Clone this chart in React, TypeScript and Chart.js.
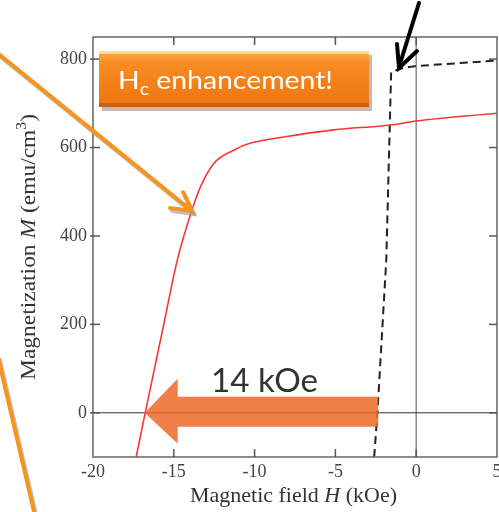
import React, { useEffect, useRef } from "react";
import { Chart, registerables } from "chart.js";

Chart.register(...registerables);

// Field (kOe) and magnetization (emu/cm^3)
const redH = [-17.33, -16.77, -15.62, -14.78, -13.87, -13.35, -12.5, -11.3, -10.25, -8.2, -5.1, -1.55, 0, 5.1];
const redM = [-100, 0, 200, 346, 459, 511, 565, 594, 610, 624, 640, 651, 660, 678];
const blackH = [-2.6, -2.4, -1.85, -1.55, -0.8, -0.1, 5.1];
const blackM = [-100, 0, 346, 771, 780, 784, 797];
const xTicks = [-20, -15, -10, -5, 0, 5];
const yTicks = [0, 200, 400, 600, 800];
const xRange = [-20, 5];
const yRange = [-100, 850];
const arrowLabel = "14 kOe";
const arrowFrom = -2.35; // H where the big arrow starts
const arrowTo = -16.8;   // H where the big arrow points
const boxMain = "H";
const boxSub = "c";
const boxRest = " enhancement!";

const serif = "'Liberation Serif', 'DejaVu Serif', serif";
const sans = "Lato, 'Open Sans', sans-serif";

type Seg = { t: string; f: string; dy?: number };

// draws text segments starting at x (or centred on cx), horizontally fitted to width w
function drawFit(ctx: CanvasRenderingContext2D, segs: Seg[], x: number, y: number, w: number, center: boolean) {
  let total = 0;
  for (const s of segs) { ctx.font = s.f; total += ctx.measureText(s.t).width; }
  const k = w / total;
  ctx.save();
  ctx.translate(center ? x - w / 2 : x, y);
  ctx.scale(k, 1);
  ctx.textAlign = "left";
  let px = 0;
  for (const s of segs) {
    ctx.font = s.f;
    ctx.fillText(s.t, px, s.dy || 0);
    px += ctx.measureText(s.t).width;
  }
  ctx.restore();
}

const decor = {
  id: "decor",
  beforeDatasetsDraw(chart: any) {
    const { ctx, chartArea: a, scales } = chart;
    const x0 = scales.x.getPixelForValue(0);
    const y0 = scales.y.getPixelForValue(0);
    ctx.save();
    ctx.strokeStyle = "#8a8a8a";
    ctx.lineWidth = 1.5;
    ctx.beginPath(); ctx.moveTo(x0, a.top); ctx.lineTo(x0, a.bottom); ctx.stroke();
    ctx.strokeStyle = "#333";
    ctx.lineWidth = 1;
    ctx.beginPath(); ctx.moveTo(a.left, y0); ctx.lineTo(a.right, y0); ctx.stroke();
    ctx.restore();
  },
  afterDatasetsDraw(chart: any) {
    const { ctx, chartArea: a, scales } = chart;
    const sx = scales.x, sy = scales.y;
    ctx.save();
    // frame
    ctx.strokeStyle = "#666";
    ctx.lineWidth = 1.5;
    ctx.strokeRect(a.left, a.top, a.right - a.left, a.bottom - a.top);
    // ticks
    ctx.strokeStyle = "#555";
    ctx.lineWidth = 1.5;
    for (const v of xTicks) {
      const px = sx.getPixelForValue(v);
      if (v === xRange[0] || v === xRange[1]) continue;
      ctx.beginPath(); ctx.moveTo(px, a.bottom); ctx.lineTo(px, a.bottom - 8); ctx.stroke();
      ctx.beginPath(); ctx.moveTo(px, a.top); ctx.lineTo(px, a.top + 8); ctx.stroke();
    }
    for (const v of yTicks) {
      const py = sy.getPixelForValue(v);
      ctx.beginPath(); ctx.moveTo(a.left - 3, py); ctx.lineTo(a.left + 7, py); ctx.stroke();
      ctx.beginPath(); ctx.moveTo(a.right, py); ctx.lineTo(a.right - 8, py); ctx.stroke();
    }
    // tick labels
    ctx.fillStyle = "#444";
    ctx.font = `18px ${serif}`;
    ctx.textBaseline = "middle";
    ctx.textAlign = "center";
    for (const v of xTicks) ctx.fillText(String(v), sx.getPixelForValue(v), a.bottom + 15);
    ctx.textAlign = "right";
    for (const v of yTicks) ctx.fillText(String(v), a.left - 6, sy.getPixelForValue(v));
    // axis titles
    ctx.fillStyle = "#333";
    ctx.textBaseline = "alphabetic";
    drawFit(ctx, [
      { t: "Magnetic field ", f: `21px ${serif}` },
      { t: "H", f: `italic 21px ${serif}` },
      { t: " (kOe)", f: `21px ${serif}` },
    ], 293.5, a.bottom + 45, 207, true);
    ctx.save();
    ctx.translate(35, 0);
    ctx.rotate(-Math.PI / 2);
    drawFit(ctx, [
      { t: "Magnetization ", f: `21px ${serif}` },
      { t: "M", f: `italic 21px ${serif}` },
      { t: " (emu/cm", f: `21px ${serif}` },
      { t: "3", f: `14px ${serif}`, dy: -9 },
      { t: ")", f: `21px ${serif}` },
    ], -380, 0, 266, false);
    ctx.restore();

    // big translucent arrow
    const yc = sy.getPixelForValue(0);
    const xs = sx.getPixelForValue(arrowFrom);
    const xt = sx.getPixelForValue(arrowTo);
    const xh = xt + 33;
    ctx.fillStyle = "rgba(236,106,40,0.85)";
    ctx.beginPath();
    ctx.moveTo(xs, yc - 16);
    ctx.lineTo(xh, yc - 16);
    ctx.lineTo(xh, yc - 34);
    ctx.lineTo(xt, yc);
    ctx.lineTo(xh, yc + 31);
    ctx.lineTo(xh, yc + 14);
    ctx.lineTo(xs, yc + 14);
    ctx.closePath();
    ctx.fill();
    ctx.fillStyle = "#333";
    drawFit(ctx, [{ t: arrowLabel, f: `32px ${sans}` }], 211, yc - 21, 107, false);

    // orange pointer arrows (with grey shadow)
    const orange = (dx: number, dy: number, col: string) => {
      ctx.strokeStyle = col;
      ctx.lineWidth = 4;
      ctx.lineCap = "round";
      ctx.beginPath(); ctx.moveTo(-5 + dx, 51 + dy); ctx.lineTo(192 + dx, 211 + dy); ctx.stroke();
      ctx.beginPath(); ctx.moveTo(170 + dx, 208 + dy); ctx.lineTo(192 + dx, 211 + dy); ctx.lineTo(183 + dx, 192 + dy); ctx.stroke();
      ctx.beginPath(); ctx.moveTo(-2 + dx, 357 + dy); ctx.lineTo(36 + dx, 520 + dy); ctx.stroke();
    };
    orange(2, 3, "rgba(150,150,150,0.6)");
    orange(0, 0, "#F7941D");

    // black arrow at top
    ctx.strokeStyle = "#000";
    ctx.lineWidth = 4;
    ctx.beginPath(); ctx.moveTo(419, 3); ctx.lineTo(399, 67); ctx.stroke();
    ctx.beginPath(); ctx.moveTo(397, 44); ctx.lineTo(399, 68); ctx.lineTo(417, 51); ctx.stroke();

    // H_c box
    const bx = 99, by = 51, bw = 270, bh = 56;
    ctx.fillStyle = "rgba(120,120,120,0.5)";
    ctx.fillRect(bx + 3, by + 4, bw, bh);
    const g = ctx.createLinearGradient(0, by, 0, by + bh);
    g.addColorStop(0, "#FBB04E");
    g.addColorStop(0.2, "#F88C22");
    g.addColorStop(1, "#EF7410");
    ctx.fillStyle = g;
    ctx.fillRect(bx, by, bw, bh);
    ctx.fillStyle = "rgba(255,235,180,0.75)";
    ctx.fillRect(bx, by, bw, 3);
    ctx.fillStyle = "rgba(180,75,0,0.55)";
    ctx.fillRect(bx, by + bh - 4, bw, 4);
    ctx.fillStyle = "#fff";
    ctx.textBaseline = "alphabetic";
    drawFit(ctx, [
      { t: boxMain, f: `25px ${sans}` },
      { t: boxSub, f: `17px ${sans}`, dy: 6 },
      { t: boxRest, f: `25px ${sans}` },
    ], 118, 89, 215, false);
    ctx.restore();
  },
};

export default function App() {
  const ref = useRef<HTMLCanvasElement>(null);
  useEffect(() => {
    document.body.style.margin = "0";
    const chart = new Chart(ref.current!, {
      type: "scatter",
      data: {
        datasets: [
          {
            data: redH.map((h, i) => ({ x: h, y: redM[i] })),
            showLine: true,
            borderColor: "#FF3535",
            borderWidth: 1.6,
            pointRadius: 0,
            cubicInterpolationMode: "monotone",
          },
          {
            data: blackH.map((h, i) => ({ x: h, y: blackM[i] })),
            showLine: true,
            borderColor: "#222",
            borderWidth: 2,
            borderDash: [8, 5],
            pointRadius: 0,
          },
        ],
      },
      options: {
        responsive: false,
        animation: false,
        layout: { padding: { left: 93, top: 37, right: 2, bottom: 55 } },
        plugins: { legend: { display: false }, tooltip: { enabled: false } },
        scales: {
          x: { type: "linear", min: xRange[0], max: xRange[1], display: false },
          y: { type: "linear", min: yRange[0], max: yRange[1], display: false },
        },
      },
      plugins: [decor],
    } as any);
    return () => chart.destroy();
  }, []);
  return <canvas ref={ref} width={499} height={512} style={{ display: "block" }} />;
}
